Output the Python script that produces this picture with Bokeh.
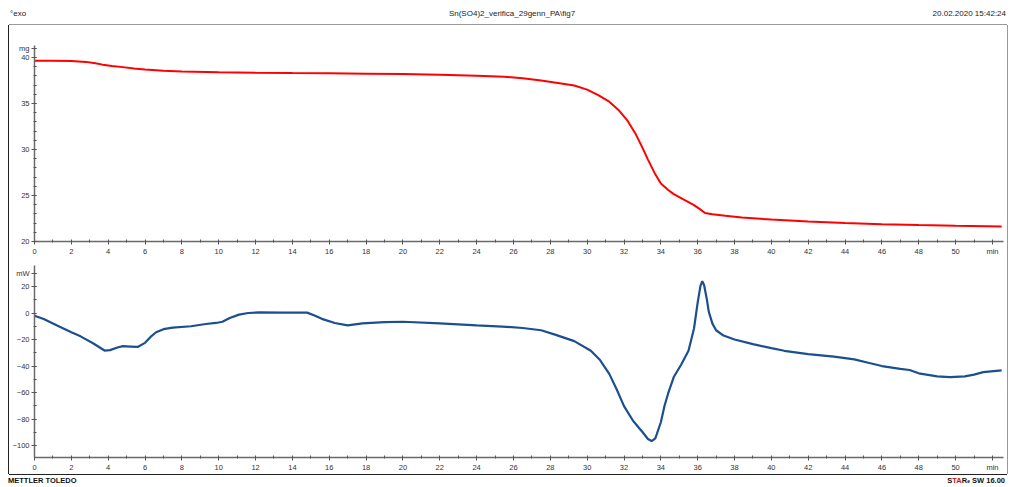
from bokeh.plotting import figure
from bokeh.models import Range1d, FixedTicker, Div, Spacer
from bokeh.layouts import column, row
from bokeh.embed import file_html
from bokeh.resources import INLINE

# ---- data ----
time_tg = [0.0, 1.0, 2.0, 2.8, 3.3, 3.7, 4.2, 4.8, 5.4, 6.0, 7.0, 8.0, 10.0, 12.0, 14.0,
           16.0, 18.0, 20.0, 22.0, 24.0, 25.5, 26.5, 27.5, 28.5, 29.3, 30.0, 30.6, 31.2,
           31.7, 32.2, 32.6, 33.0, 33.3, 33.7, 34.0, 34.4, 34.7, 35.2, 35.8, 36.1, 36.4,
           36.8, 37.5, 38.4, 40.0, 42.0, 44.0, 46.0, 48.0, 50.0, 52.5]
mass_mg = [39.65, 39.65, 39.62, 39.52, 39.38, 39.22, 39.08, 38.95, 38.8, 38.68, 38.55,
           38.47, 38.38, 38.33, 38.3, 38.28, 38.24, 38.2, 38.12, 38.02, 37.9, 37.75, 37.5,
           37.2, 36.95, 36.5, 35.9, 35.2, 34.3, 33.1, 31.8, 30.2, 28.9, 27.3, 26.3, 25.6,
           25.15, 24.6, 23.95, 23.55, 23.1, 22.95, 22.8, 22.62, 22.38, 22.18, 22.02, 21.88,
           21.78, 21.7, 21.62]

time_dsc = [0.0, 0.5, 1.2, 2.0, 2.5, 3.2, 3.8, 4.1, 4.5, 4.8, 5.2, 5.6, 6.0, 6.3, 6.6, 7.0,
            7.5, 8.5, 9.3, 9.85, 10.2, 10.6, 11.1, 11.6, 12.2, 13.5, 14.8, 15.2, 15.6, 16.3,
            17.0, 17.8, 19.0, 20.0, 22.0, 24.0, 25.4, 26.5, 27.5, 28.3, 29.3, 30.2, 30.7,
            31.2, 31.6, 32.0, 32.5, 33.0, 33.3, 33.5, 33.7, 34.0, 34.2, 34.4, 34.7, 35.1,
            35.5, 35.8, 36.0, 36.15, 36.25, 36.35, 36.5, 36.6, 36.8, 37.0, 37.4, 38.0, 39.0,
            40.0, 40.7, 42.0, 43.4, 44.5, 45.2, 46.0, 47.0, 47.5, 48.0, 49.0, 49.7, 50.5,
            51.0, 51.5, 52.5]
heatflow_mw = [-2.0, -4.5, -9.3, -14.5, -17.6, -23.0, -28.3, -28.0, -26.0, -25.0, -25.3,
               -25.6, -22.5, -18.0, -14.5, -12.2, -11.0, -10.0, -8.3, -7.5, -6.6, -3.8, -1.2,
               0.0, 0.5, 0.3, 0.3, -1.8, -4.4, -7.5, -9.3, -7.8, -6.8, -6.6, -7.8, -9.3,
               -10.2, -11.3, -13.0, -16.5, -21.2, -28.5, -35.5, -45.9, -57.5, -70.2, -81.5,
               -89.8, -95.0, -96.6, -94.5, -82.4, -70.0, -60.5, -48.3, -39.0, -28.5, -11.7,
               8.0, 20.5, 24.0, 21.0, 10.0, 1.0, -8.0, -13.0, -17.0, -20.0, -23.5, -26.5,
               -28.5, -31.0, -32.9, -35.0, -37.3, -40.0, -42.2, -43.0, -45.5, -47.8, -48.3,
               -47.8, -46.5, -44.6, -43.2]

x_ticks = list(range(0, 53, 2))
x_minor_ticks = list(range(1, 53, 2))
x_label_overrides = {52: "min"}

mass_ticks = [20, 25, 30, 35, 40, 41]
mass_minor_ticks = list(range(20, 42))
mass_label_overrides = {41: "mg"}

dsc_ticks = [-100, -80, -60, -40, -20, 0, 20, 30]
dsc_minor_ticks = list(range(-100, 31, 10))
dsc_label_overrides = {30: "mW"}

header_left = "°exo"
header_title = "Sn(SO4)2_verifica_29genn_PA\\fig7"
header_date = "20.02.2020 15:42:24"

FONT = "Liberation Sans"


def style(p, yticks, yminor, ylabels):
    p.grid.visible = False
    p.outline_line_color = None
    p.background_fill_color = "white"
    p.border_fill_color = "white"
    p.xaxis.ticker = FixedTicker(ticks=x_ticks, minor_ticks=x_minor_ticks)
    p.xaxis.major_label_overrides = x_label_overrides
    p.yaxis.ticker = FixedTicker(ticks=yticks, minor_ticks=yminor)
    p.yaxis.major_label_overrides = ylabels
    for ax in p.axis:
        ax.axis_line_color = "#6a6a6a"
        ax.axis_line_width = 1.5
        ax.major_tick_line_color = "#555555"
        ax.minor_tick_line_color = "#555555"
        ax.major_tick_in = 2
        ax.major_tick_out = 3
        ax.minor_tick_in = 2
        ax.minor_tick_out = 1
        ax.major_label_text_font = FONT
        ax.major_label_text_font_size = "7.5px"
        ax.major_label_text_color = "#333333"
        ax.major_label_standoff = 2


top = figure(width=998, height=233, x_range=Range1d(0, 52.6), y_range=Range1d(20, 41.3),
             output_backend="svg", toolbar_location=None,
             min_border_left=22, min_border_right=4, min_border_top=20, min_border_bottom=16)
style(top, mass_ticks, mass_minor_ticks, mass_label_overrides)
top.line(time_tg, mass_mg, line_color="#ff0000", line_width=2)

bottom = figure(width=998, height=216, x_range=top.x_range, y_range=Range1d(-109, 35.85),
                output_backend="svg", toolbar_location=None,
                min_border_left=22, min_border_right=4, min_border_top=7, min_border_bottom=14)
style(bottom, dsc_ticks, dsc_minor_ticks, dsc_label_overrides)
bottom.line(time_dsc, heatflow_mw, line_color="#1c4f8f", line_width=2.2)

header = Div(width=1013, height=25, margin=0, text=(
    '<div style="position:relative;width:1013px;height:25px;font-family:\'Liberation Sans\',Arial,sans-serif;'
    'font-size:8px;line-height:10px;color:#222;">'
    f'<span style="position:absolute;left:10px;top:9px;">{header_left}</span>'
    f'<span style="position:absolute;left:362px;width:300px;text-align:center;top:9px;">{header_title}</span>'
    f'<span style="position:absolute;right:7px;top:9px;">{header_date}</span></div>'))

footer = Div(width=1013, height=12, margin=0, text=(
    '<div style="position:relative;width:1013px;height:12px;font-family:\'Liberation Sans\',Arial,sans-serif;'
    'font-size:7.5px;line-height:8px;font-weight:bold;color:#111;">'
    '<span style="position:absolute;left:8px;top:3px;">METTLER TOLEDO</span>'
    '<span style="position:absolute;right:8px;top:3px;">S<span style="color:#d01010">TA</span>R'
    '<span style="font-size:5px;vertical-align:top;">e</span> SW 16.00</span></div>'))

plots = column(top, bottom, styles={
    "box-shadow": "-1px 0 0 #222222, 1px 0 0 #999999, 0 -1px 0 #999999, 0 1px 0 #222222"})

layout = column(header, row(Spacer(width=9, height=449), plots), footer)

open("out.html", "w").write(file_html(layout, INLINE))
